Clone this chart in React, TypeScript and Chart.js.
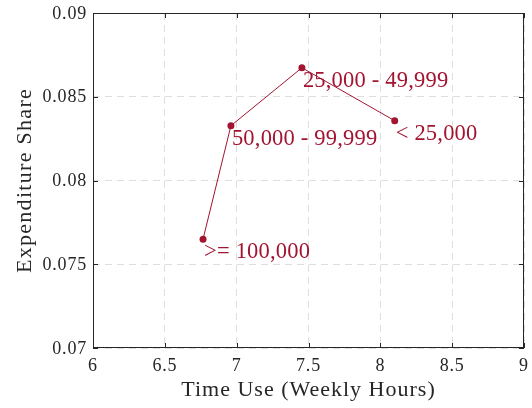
import React, { useEffect, useRef } from "react";
import { Chart, registerables } from "chart.js";

Chart.register(...registerables);

const timeUse = [6.766, 6.96, 7.454, 8.1];
const expShare = [0.0765, 0.08327, 0.08673, 0.08357];
const incomeLabels = [">= 100,000", "50,000 - 99,999", "25,000 - 49,999", "< 25,000"];
const xTicks = [6, 6.5, 7, 7.5, 8, 8.5, 9];
const yTicks = [0.07, 0.075, 0.08, 0.085, 0.09];
const xTickLabels = ["6", "6.5", "7", "7.5", "8", "8.5", "9"];
const yTickLabels = ["0.07", "0.075", "0.08", "0.085", "0.09"];
const xTitle = "Time Use (Weekly Hours)";
const yTitle = "Expenditure Share";

const COLOR = "#A2142F";
const AXIS = "#262626";
const FONT = "'Liberation Serif', 'Times New Roman', serif";

const framePlugin = {
  id: "frame",
  afterDatasetsDraw(chart: any) {
    const { ctx, chartArea } = chart;
    const { left, right, top, bottom } = chartArea;
    const xs = chart.scales.x;
    const ys = chart.scales.y;
    ctx.save();
    ctx.strokeStyle = AXIS;
    ctx.lineWidth = 1;
    ctx.setLineDash([]);
    ctx.strokeRect(left + 0.5, top + 0.5, right - left - 1, bottom - top - 1);
    ctx.beginPath();
    xTicks.forEach((v) => {
      const px = Math.round(xs.getPixelForValue(v)) + 0.5;
      ctx.moveTo(px, bottom);
      ctx.lineTo(px, bottom - 5);
      ctx.moveTo(px, top);
      ctx.lineTo(px, top + 5);
    });
    yTicks.forEach((v) => {
      const py = Math.round(ys.getPixelForValue(v)) + 0.5;
      ctx.moveTo(left, py);
      ctx.lineTo(left + 5, py);
      ctx.moveTo(right, py);
      ctx.lineTo(right - 5, py);
    });
    ctx.stroke();

    // tick labels
    ctx.fillStyle = AXIS;
    ctx.font = `18px ${FONT}`;
    (ctx as any).letterSpacing = "0.8px";
    ctx.textBaseline = "alphabetic";
    ctx.textAlign = "center";
    xTicks.forEach((v, i) => {
      ctx.fillText(xTickLabels[i], xs.getPixelForValue(v), bottom + 23);
    });
    ctx.textAlign = "right";
    yTicks.forEach((v, i) => {
      ctx.fillText(yTickLabels[i], left - 6, ys.getPixelForValue(v) + 5.5);
    });

    // axis titles
    ctx.font = `22px ${FONT}`;
    (ctx as any).letterSpacing = "1px";
    ctx.textAlign = "center";
    ctx.fillText(xTitle, (left + right) / 2, 396);
    ctx.save();
    ctx.translate(31, (top + bottom) / 2);
    ctx.rotate(-Math.PI / 2);
    (ctx as any).letterSpacing = "1.3px";
    ctx.fillText(yTitle, 0, 0);
    ctx.restore();

    // point labels
    ctx.fillStyle = COLOR;
    ctx.font = `22.5px ${FONT}`;
    (ctx as any).letterSpacing = "0.2px";
    ctx.textAlign = "left";
    incomeLabels.forEach((t, i) => {
      const px = xs.getPixelForValue(timeUse[i]);
      const py = ys.getPixelForValue(expShare[i]);
      ctx.fillText(t, px + 1, py + 19);
    });
    ctx.restore();
  },
};

export default function App() {
  const ref = useRef<HTMLCanvasElement>(null);
  useEffect(() => {
    const chart = new Chart(ref.current!, {
      type: "scatter",
      data: {
        datasets: [
          {
            data: timeUse.map((x, i) => ({ x, y: expShare[i] })),
            showLine: true,
            borderColor: COLOR,
            backgroundColor: COLOR,
            borderWidth: 1,
            pointRadius: 3.5,
            pointBorderWidth: 0,
          },
        ],
      },
      options: {
        animation: false,
        responsive: false,
        layout: { padding: { left: 0, right: 8, top: 13, bottom: 0 } },
        plugins: { legend: { display: false }, tooltip: { enabled: false } },
        scales: {
          x: {
            type: "linear",
            min: 6,
            max: 9,
            afterBuildTicks: (s: any) => {
              s.ticks = xTicks.map((v) => ({ value: v }));
            },
            afterFit: (s: any) => {
              s.height = 60;
            },
            border: { display: false, dash: [7, 5] },
            grid: { color: "#dedede", drawTicks: false },
            ticks: { display: false },
          },
          y: {
            type: "linear",
            min: 0.07,
            max: 0.09,
            afterBuildTicks: (s: any) => {
              s.ticks = yTicks.map((v) => ({ value: v }));
            },
            afterFit: (s: any) => {
              s.width = 93;
            },
            border: { display: false, dash: [7, 5] },
            grid: { color: "#dedede", drawTicks: false },
            ticks: { display: false },
          },
        },
      },
      plugins: [framePlugin],
    } as any);
    return () => chart.destroy();
  }, []);
  return (
    <div style={{ position: "fixed", left: 0, top: 0, width: 532, height: 408, background: "#fff" }}>
      <canvas ref={ref} width={532} height={408} />
    </div>
  );
}
